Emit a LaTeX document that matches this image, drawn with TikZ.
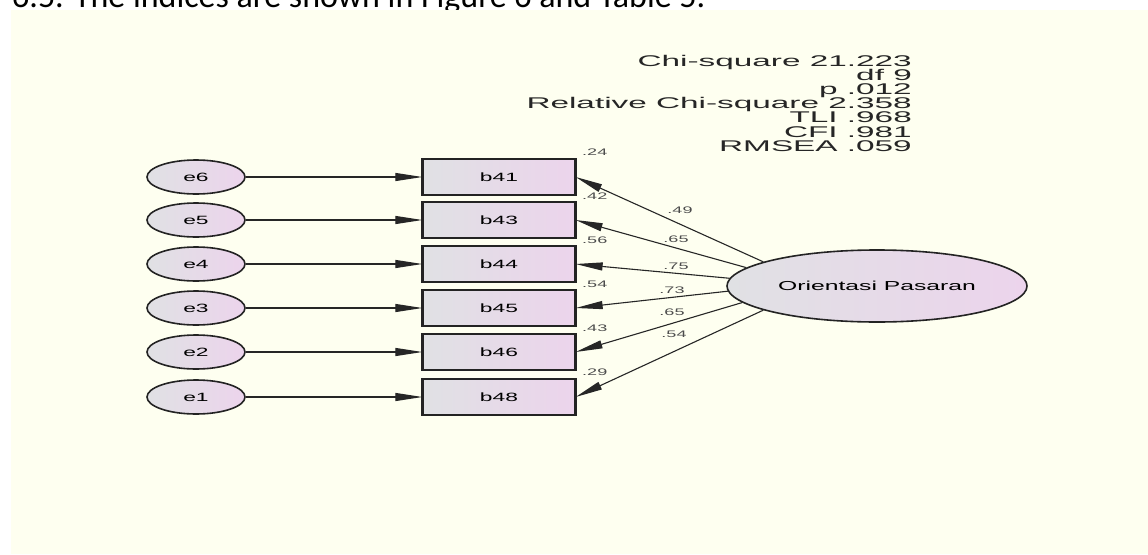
\documentclass[tikz,border=0pt]{standalone}
\usepackage{fontspec}
\setmainfont{Liberation Sans}
\newfontfamily\amos[FakeStretch=1.9]{Liberation Sans}
\newfontfamily\amoswide[FakeStretch=2.15]{Liberation Sans}
\newfontfamily\docfont{Carlito}
\usetikzlibrary{arrows.meta,shapes.geometric}
\definecolor{cream}{RGB}{254,255,240}
\definecolor{gleft}{RGB}{224,225,228}
\definecolor{gright}{RGB}{236,212,236}
\definecolor{edgec}{RGB}{35,35,35}
\begin{document}
\begin{tikzpicture}[x=1pt,y=-1pt,
  obs/.style={draw=edgec, line width=1.3pt, rectangle, minimum width=152pt, minimum height=36pt,
    left color=gleft, right color=gright, inner sep=0pt, font=\amos\fontsize{12}{14}\selectfont},
  err/.style={draw=edgec, line width=1.6pt, ellipse, minimum width=98pt, minimum height=34pt,
    left color=gleft, right color=gright, inner sep=0pt, font=\amos\fontsize{12}{14}\selectfont},
  latent/.style={draw=edgec, line width=1.6pt, ellipse, minimum width=300pt, minimum height=72pt,
    left color=gleft, right color=gright, inner sep=0pt, font=\amos\fontsize{13}{15}\selectfont},
  side/.style={draw=edgec, line width=2.4pt},
  arr/.style={line width=1.1pt, draw=black!85, -{Triangle[length=27pt,width=8pt]}},
  lbl/.style={font=\amos\fontsize{9.5}{11}\selectfont, text=black!70, inner sep=0pt, anchor=base west},
  coef/.style={font=\amos\fontsize{9.5}{11}\selectfont, text=black!70, inner sep=0pt, anchor=base},
  stat/.style={font=\amoswide\fontsize{15.5}{18}\selectfont, text=black!85, inner sep=0pt, anchor=base east}]
\useasboundingbox (0,0) rectangle (1148,554);
\node[anchor=base west, inner sep=0pt, font=\docfont\fontsize{34}{38}\selectfont] (doc) at (12,8)
  {6.5. The indices are shown in Figure 6 and Table 5.};
\fill[cream] (11,10) rectangle (1148,554);

% observed variables and errors
\foreach \e/\b/\y in {e6/b41/177, e5/b43/220, e4/b44/264, e3/b45/308, e2/b46/352, e1/b48/397}{
  \node[err] (\e) at (196,\y) {\e};
  \node[obs] (\b) at (499,\y) {\b};
  \draw[side] (\b.north west) -- (\b.south west);
  \draw[side] (\b.north east) -- (\b.south east);
  \draw[arr] (\e.east) -- (\b.west);
}

% latent
\node[latent] (lat) at (877,286) {Orientasi Pasaran};
\draw[arr] (lat.168) -- (b41.east);
\draw[arr] (lat.172.5) -- (b43.east);
\draw[arr] (lat.177.5) -- (b44.east);
\draw[arr] (lat.182.5) -- (b45.east);
\draw[arr] (lat.187.5) -- (b46.east);
\draw[arr] (lat.192) -- (b48.east);

% squared multiple correlations
\node[lbl] (r41) at (582,155) {.24};
\node[lbl] (r43) at (582,199) {.42};
\node[lbl] (r44) at (582,243) {.56};
\node[lbl] (r45) at (582,287) {.54};
\node[lbl] (r46) at (582,331) {.43};
\node[lbl] (r48) at (582,375) {.29};

% loadings
\node[coef] (c41) at (680,213) {.49};
\node[coef] (c43) at (676,242) {.65};
\node[coef] (c44) at (676,269) {.75};
\node[coef] (c45) at (672,293) {.73};
\node[coef] (c46) at (672,315) {.65};
\node[coef] (c48) at (674,337) {.54};

% fit statistics
\node[stat] (s1) at (912,66) {Chi-square 21.223};
\node[stat] (s2) at (912,80.2) {df 9};
\node[stat] (s3) at (912,94.4) {p .012};
\node[stat] (s4) at (912,108.6) {Relative Chi-square 2.358};
\node[stat] (s5) at (912,122.8) {TLI .968};
\node[stat] (s6) at (912,137) {CFI .981};
\node[stat] (s7) at (912,151.2) {RMSEA .059};
\end{tikzpicture}
\end{document}
